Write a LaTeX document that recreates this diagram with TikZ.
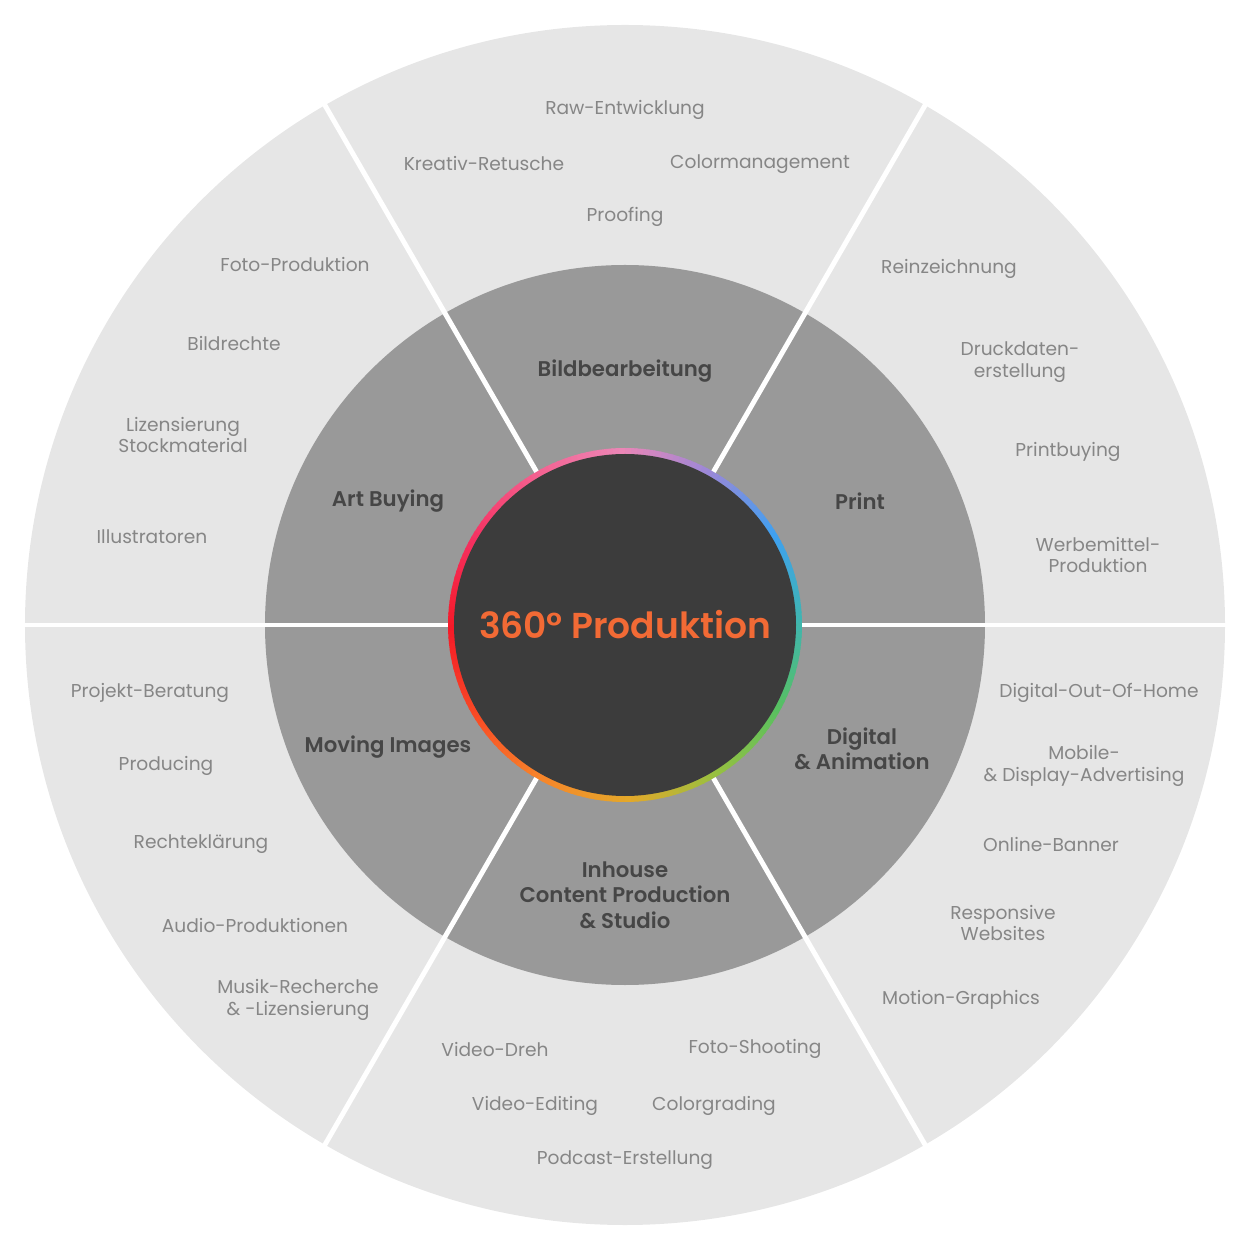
\documentclass[tikz,border=0pt]{standalone}
\usepackage{fontspec}
\setmainfont{Poppins}[BoldFont={* SemiBold}]
\definecolor{wheelouter}{HTML}{E6E6E6}
\definecolor{wheelmid}{HTML}{999999}
\definecolor{wheelcore}{HTML}{3C3C3C}
\definecolor{itemgray}{HTML}{868686}
\definecolor{labelgray}{HTML}{464646}
\definecolor{titleorange}{HTML}{F26A35}
% ring colours, every 30 degrees from east
\definecolor{ringA}{HTML}{3FB5B0}
\definecolor{ringB}{HTML}{3FA0F0}
\definecolor{ringC}{HTML}{9A88D8}
\definecolor{ringD}{HTML}{EC86B6}
\definecolor{ringE}{HTML}{F4608F}
\definecolor{ringF}{HTML}{F53060}
\definecolor{ringG}{HTML}{F51A28}
\definecolor{ringH}{HTML}{F84A25}
\definecolor{ringI}{HTML}{F7852A}
\definecolor{ringJ}{HTML}{E4A82A}
\definecolor{ringK}{HTML}{98C040}
\definecolor{ringL}{HTML}{58C060}
\usetikzlibrary{positioning}

\begin{document}
\begin{tikzpicture}[x=0.02cm, y=0.02cm,
  item/.style={font=\fontsize{10.6}{12.5}\selectfont, text=itemgray, align=center, inner sep=0pt},
  area/.style={font=\bfseries\fontsize{12.1}{14.5}\selectfont, text=labelgray, align=center, inner sep=0pt},
  hub/.style={font=\bfseries\fontsize{20.5}{24}\selectfont, text=titleorange, inner sep=0pt},
  divider/.style={white, line width=2.8pt}]

\useasboundingbox (-625,-625) rectangle (625,625);

% rings
\fill[wheelouter] (0,0) circle (600);
\fill[wheelmid] (0,0) circle (360);

% colour ring round the core
\foreach \a/\ca/\cb in {0/ringA/ringB, 30/ringB/ringC, 60/ringC/ringD, 90/ringD/ringE,
  120/ringE/ringF, 150/ringF/ringG, 180/ringG/ringH, 210/ringH/ringI,
  240/ringI/ringJ, 270/ringJ/ringK, 300/ringK/ringL, 330/ringL/ringA} {
  \foreach \i in {0,...,14} {
    \pgfmathtruncatemacro\p{100*\i/15}
    \fill[\cb!\p!\ca] (0,0) -- ({\a+2*\i}:177)
      arc[start angle={\a+2*\i}, end angle={\a+2*\i+2.6}, radius=177] -- cycle;
  }
}
\fill[wheelcore] (0,0) circle (171);

% sector borders
\foreach \a in {0,60,...,300}
  \draw[divider] (\a:177) -- (\a:601);

\node[hub] (title) at (0,0) {360° Produktion};

% Bildbearbeitung
\node[area] (bild) at (0,254) {Bildbearbeitung};
\node[item] (raw) at (0,515) {Raw-Entwicklung};
\node[item] (retusche) at (-141,461) {Kreativ-Retusche};
\node[item] (colormgmt) at (135,461) {Colormanagement};
\node[item] (proofing) at (0,408) {Proofing};

% Print
\node[area] (print) at (235,124) {Print};
\node[item] (reinz) at (324,356) {Reinzeichnung};
\node[item] (druck) at (395,263) {Druckdaten-\\erstellung};
\node[item] (buying) at (443,173) {Printbuying};
\node[item] (werbe) at (473,70) {Werbemittel-\\Produktion};

% Digital & Animation
\node[area] (digital) at (237,-124) {Digital\\\& Animation};
\node[item] (dooh) at (474,-68) {Digital-Out-Of-Home};
\node[item] (mobile) at (459,-141) {Mobile-\\\& Display-Advertising};
\node[item] (banner) at (426,-219) {Online-Banner};
\node[item] (websites) at (378,-298) {Responsive\\Websites};
\node[item] (motion) at (336,-375) {Motion-Graphics};

% Inhouse Content Production & Studio
\node[area] (inhouse) at (0,-270) {Inhouse\\Content Production\\\& Studio};
\node[item] (dreh) at (-130,-424) {Video-Dreh};
\node[item] (shooting) at (130,-424) {Foto-Shooting};
\node[item] (editing) at (-90,-481) {Video-Editing};
\node[item] (grading) at (89,-481) {Colorgrading};
\node[item] (podcast) at (0,-535) {Podcast-Erstellung};

% Moving Images
\node[area] (moving) at (-237,-122) {Moving Images};
\node[item] (beratung) at (-475,-68) {Projekt-Beratung};
\node[item] (producing) at (-459,-141) {Producing};
\node[item] (rechte) at (-424,-219) {Rechteklärung};
\node[item] (audio) at (-370,-300) {Audio-Produktionen};
\node[item] (musik) at (-327,-375) {Musik-Recherche\\\& -Lizensierung};

% Art Buying
\node[area] (art) at (-237,124) {Art Buying};
\node[item] (fotoprod) at (-330,360) {Foto-Produktion};
\node[item] (bildrechte) at (-391,281) {Bildrechte};
\node[item] (lizenz) at (-442,190) {Lizensierung\\Stockmaterial};
\node[item] (illu) at (-473,88) {Illustratoren};

\end{tikzpicture}
\end{document}
